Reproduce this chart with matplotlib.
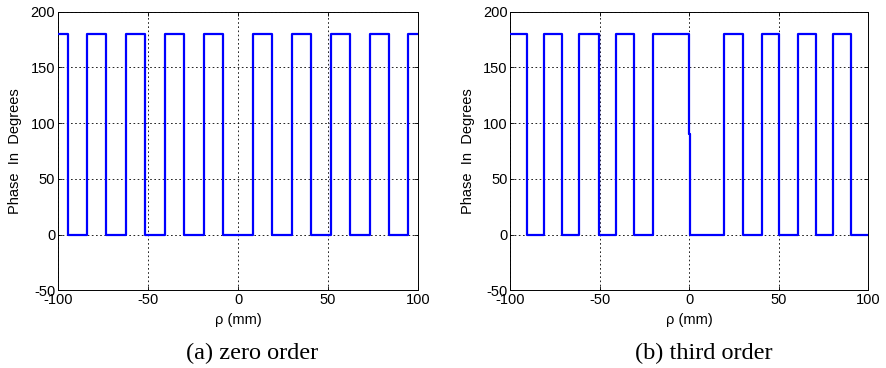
import numpy as np
import matplotlib
matplotlib.use('Agg')
import matplotlib.pyplot as plt

# (a) zero order: switching positions (mm) and phase of each segment (deg)
rho_a_edges = [-94.6, -84.1, -73.1, -62.0, -51.5, -40.6, -29.8, -19.0, -8.4,
               8.4, 19.0, 29.8, 40.6, 51.5, 62.0, 73.1, 84.1, 94.6]
phase_a = [180, 0, 180, 0, 180, 0, 180, 0, 180, 0,
           180, 0, 180, 0, 180, 0, 180, 0, 180]

# (b) third order
rho_b_edges = [-90.8, -81.0, -70.9, -61.5, -50.6, -40.9, -30.7, -20.1, -0.2,
               0.3, 19.6, 30.2, 40.6, 50.3, 60.9, 70.8, 80.4, 90.3]
phase_b = [180, 0, 180, 0, 180, 0, 180, 0, 180, 90,
           0, 180, 0, 180, 0, 180, 0, 180, 0]

x_ticks = [-100, -50, 0, 50, 100]
y_ticks = [-50, 0, 50, 100, 150, 200]
captions = ['(a) zero order', '(b) third order']

plt.rcParams['font.family'] = ['Liberation Sans', 'DejaVu Sans']
plt.rcParams['axes.unicode_minus'] = False


def draw_panel(ax, edges, levels):
	xs = [-100] + edges + [100]
	ys = levels + [levels[-1]]
	ax.step(xs, ys, where='post', color='#0000ff', lw=1.6, zorder=3)
	ax.set_xlim(-100, 100)
	ax.set_ylim(-50, 200)
	ax.set_xticks(x_ticks)
	ax.set_yticks(y_ticks)
	ax.tick_params(direction='in', length=3, width=0.6, top=True, right=True,
	               labelsize=10.5, pad=2)
	ax.grid(True, color='black', linestyle=(0, (2, 3)), lw=0.6)
	for s in ax.spines.values():
		s.set_linewidth(0.7)
	ax.set_xlabel('\u03c1 (mm)', fontsize=10.5, labelpad=4)
	ax.set_ylabel('Phase  In  Degrees', fontsize=10.5, labelpad=6)


fig = plt.figure(figsize=(8.86, 3.68), dpi=100)
ax1 = fig.add_axes([0.0655, 0.211, 0.4063, 0.757])
ax2 = fig.add_axes([0.576, 0.211, 0.404, 0.757])

draw_panel(ax1, rho_a_edges, phase_a)
draw_panel(ax2, rho_b_edges, phase_b)

fig.text(0.2844, 0.025, captions[0], ha='center', fontsize=17.5, family='Liberation Serif')
fig.text(0.7946, 0.025, captions[1], ha='center', fontsize=17.5, family='Liberation Serif')

fig.savefig('out.png', dpi=100)
